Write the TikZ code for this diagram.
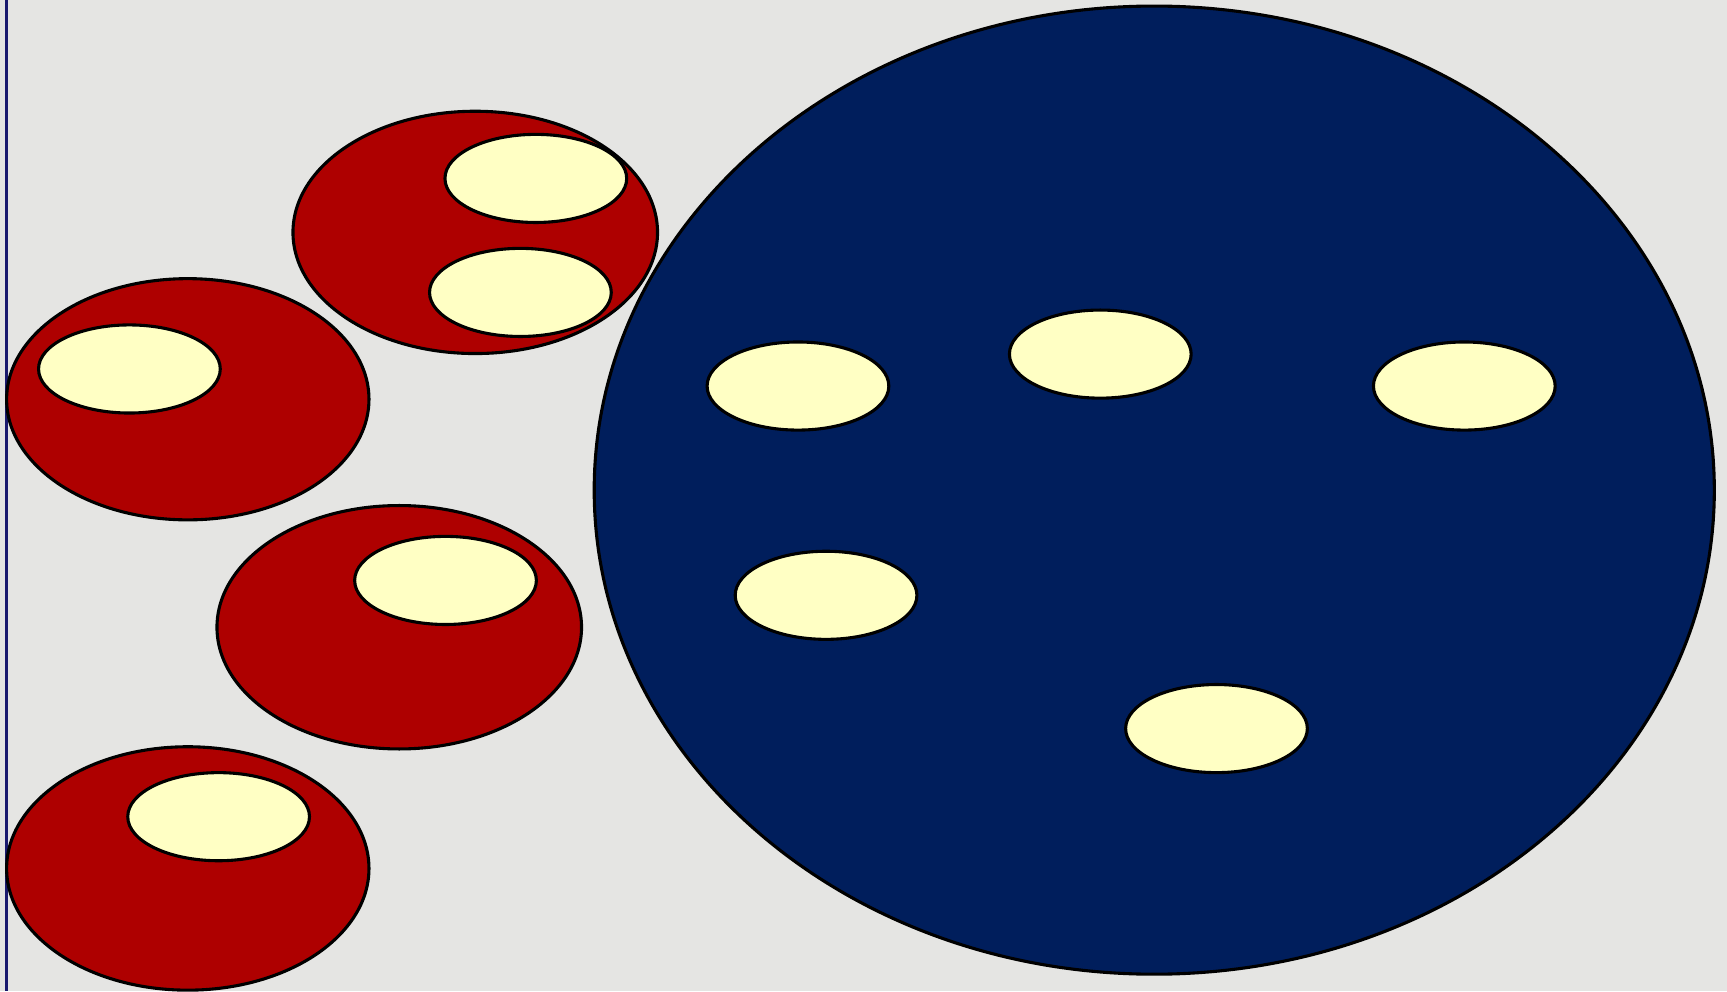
\documentclass[tikz,border=0pt]{standalone}
\definecolor{bggray}{HTML}{E5E5E3}
\definecolor{cellred}{HTML}{AE0000}
\definecolor{bignavy}{HTML}{001E5C}
\definecolor{nucleus}{HTML}{FFFFC4}
\definecolor{edgenavy}{HTML}{1A1A6E}
\tikzset{
	redcell/.style = {draw = black, line width = 0.8pt, fill = cellred},
	bigcell/.style = {draw = black, line width = 0.8pt, fill = bignavy},
	nuc/.style = {draw = black, line width = 0.8pt, fill = nucleus}
}
\begin{document}
\begin{tikzpicture}[x = 0.01cm, y = -0.01cm]
	\fill [bggray] (0,0) rectangle (1568,900);
	\useasboundingbox (0,0) rectangle (1568,900);
	\draw [edgenavy, line width = 0.65pt] (5.7,0) -- (5.7,900);
	% big cell
	\draw [bigcell] (1048,445) ellipse (508.5 and 439.5);
	% small cells
	\draw [redcell] (431.5,211) ellipse (165.5 and 110);
	\draw [redcell] (170.5,362.5) ellipse (164.5 and 109.5);
	\draw [redcell] (362.5,569.5) ellipse (165.5 and 110.5);
	\draw [redcell] (170.5,788.5) ellipse (164.5 and 110.5);
	% nuclei
	\draw [nuc] (486.5,162) ellipse (82.5 and 40);
	\draw [nuc] (472.5,265.5) ellipse (82.5 and 40);
	\draw [nuc] (117.5,335) ellipse (82.5 and 40);
	\draw [nuc] (404.5,527) ellipse (82.5 and 40);
	\draw [nuc] (198.5,741.5) ellipse (82.5 and 40);
	\draw [nuc] (724.5,350.5) ellipse (82.5 and 40);
	\draw [nuc] (999,321.5) ellipse (82.5 and 40);
	\draw [nuc] (1329.5,350.5) ellipse (82.5 and 40);
	\draw [nuc] (750,540.5) ellipse (82.5 and 40);
	\draw [nuc] (1104.5,661.5) ellipse (82.5 and 40);
\end{tikzpicture}
\end{document}
